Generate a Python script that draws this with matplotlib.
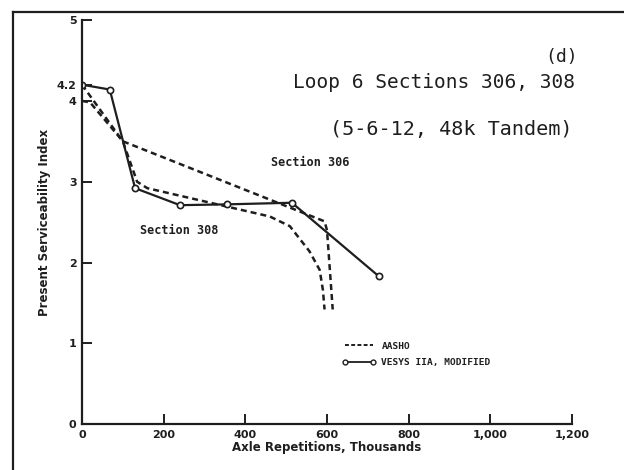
import matplotlib
matplotlib.use("Agg")
import matplotlib.pyplot as plt
from matplotlib.lines import Line2D

# Data
vesys_x = [0, 68, 130, 240, 354, 514, 727]
vesys_y = [4.2, 4.14, 2.92, 2.71, 2.72, 2.74, 1.83]

aasho306_x = [0, 100, 594, 600, 614]
aasho306_y = [4.2, 3.5, 2.51, 2.4, 1.42]

aasho308_x = [0, 20, 100, 135, 160, 460, 509, 557, 582, 590, 594]
aasho308_y = [4.0, 3.98, 3.5, 3.0, 2.92, 2.57, 2.45, 2.14, 1.91, 1.66, 1.42]

xticks = [0, 200, 400, 600, 800, 1000, 1200]
xticklabels = ["0", "200", "400", "600", "800", "1,000", "1,200"]
yticks = [0, 1, 2, 3, 4, 4.2, 5]
yticklabels = ["0", "1", "2", "3", "4", "4.2", "5"]

ink = "#1e1e1e"
mono = "DejaVu Sans Mono"
fig = plt.figure(figsize=(6.24, 4.70), dpi=100)
fig.patch.set_facecolor("white")

# outer border lines (left and top)
fig.add_artist(Line2D([13/624, 13/624], [0, 1-12/470], transform=fig.transFigure, color=ink, lw=1.6))
fig.add_artist(Line2D([13/624, 1.0], [1-12/470, 1-12/470], transform=fig.transFigure, color=ink, lw=1.6))

ax = fig.add_axes([82/624, 1-424.3/470, 490/624, 404.3/470])
ax.set_xlim(0, 1200)
ax.set_ylim(0, 5)
for s in ["top", "right"]:
    ax.spines[s].set_visible(False)
for s in ["left", "bottom"]:
    ax.spines[s].set_color(ink)
    ax.spines[s].set_linewidth(1.6)

dash = (0, (2.4, 1.6))
ax.plot(aasho306_x, aasho306_y, linestyle=dash, color=ink, lw=1.8)
ax.plot(aasho308_x, aasho308_y, linestyle=dash, color=ink, lw=1.8)
ax.plot(vesys_x, vesys_y, linestyle="-", color=ink, lw=1.6, marker="o",
        markersize=4.5, markerfacecolor="white", markeredgecolor=ink, markeredgewidth=1.2)

ax.set_xticks(xticks)
ax.set_xticklabels(xticklabels, fontsize=8, fontweight="bold", color=ink)
ax.set_yticks(yticks)
ax.set_yticklabels(yticklabels, fontsize=8, fontweight="bold", color=ink)
ax.tick_params(axis="both", direction="in", length=7, width=1.4, color=ink, pad=4)

ax.set_xlabel("Axle Repetitions, Thousands", fontsize=8.5, fontweight="bold", color=ink, labelpad=1)
ax.set_ylabel("Present Serviceability Index", fontsize=8.5, fontweight="bold", color=ink, labelpad=4)

def px(xp, yp):
    return 1200*(xp-82)/490, (424.3-yp)/80.86

ax.text(*px(578, 57), "(d)", fontsize=13, family=mono, color=ink, ha="right", va="center")
ax.text(*px(434, 82), "Loop 6 Sections 306, 308", fontsize=14, family=mono, color=ink,
        ha="center", va="center")
ax.text(*px(451, 130), "(5-6-12, 48k Tandem)", fontsize=14.5, family=mono, color=ink,
        ha="center", va="center")
ax.text(*px(310, 162), "Section 306", fontsize=8.5, family=mono, fontweight="bold", color=ink,
        ha="center", va="center")
ax.text(*px(179, 230), "Section 308", fontsize=8.5, family=mono, fontweight="bold", color=ink,
        ha="center", va="center")

handles = [Line2D([], [], linestyle=(0, (2, 1.2)), color=ink, lw=1.4),
           Line2D([], [], linestyle="-", color=ink, lw=1.3, marker="o", markersize=3.5,
                  markerfacecolor="white", markeredgecolor=ink)]
leg = ax.legend(handles, ["AASHO", "VESYS IIA, MODIFIED"], loc="upper left",
                bbox_to_anchor=((338-82)/490, (424.3-338)/404.3), frameon=False,
                prop={"size": 6.8, "weight": "bold", "family": mono}, handlelength=3.6,
                handletextpad=0.6, labelspacing=0.8, numpoints=2, borderaxespad=0)
for t in leg.get_texts():
    t.set_color(ink)

fig.savefig("out.png", dpi=100, facecolor="white")
